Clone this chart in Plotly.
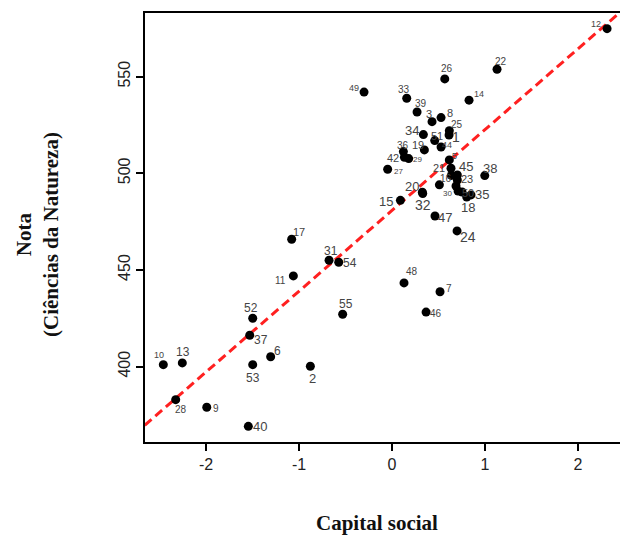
import plotly.graph_objects as go

# Data
labels = ["12","22","26","49","33","14","39","3","8","25","1","34","51","44","19","36","42","29","27",
          "5","21","45","","23","16","","30","50","18","35","38","20","32","15","47","24",
          "17","31","54","11","55","52","37","6","10","13","53","2","28","9","40","48","7","46"]
capital_social = [2.312,1.129,0.567,-0.301,0.158,0.828,0.269,0.430,0.527,0.616,0.613,0.337,0.459,0.527,0.348,0.122,0.133,0.179,-0.047,
                  0.616,0.634,0.702,0.638,0.702,0.509,0.688,0.710,0.753,0.803,0.849,0.997,0.326,0.330,0.090,0.462,0.699,
                  -1.079,-0.677,-0.573,-1.061,-0.531,-1.498,-1.530,-1.305,-2.459,-2.255,-1.498,-0.878,-2.326,-1.992,-1.545,0.129,0.516,0.366]
nota = [574.8,553.8,548.8,542.0,538.8,537.8,531.7,526.7,528.8,522.0,519.8,520.0,516.9,513.6,512.1,511.2,508.3,507.6,502.1,
        506.9,502.6,499.1,498.9,496.5,494.0,493.4,490.8,490.3,487.7,488.8,498.8,490.2,489.5,486.0,477.9,470.2,
        465.9,455.0,454.0,446.9,427.1,425.0,416.2,405.1,401.0,401.9,401.0,400.2,382.9,379.0,369.1,443.3,438.7,428.2]

# label placement (pixel offsets from the dot, right / down) and sizes -- styling only
label_dx = [-11,4,2,-10,-3,10,4,-3,9,8,7,-11,2,6,-6,0,-11,9,11,
            5,-12,9,0,10,7,0,-11,6,1,11,5,-10,0,-14,10,11,
            7,2,11,-13,3,-2,11,7,-4,1,0,2,5,9,12,8,9,10]
label_dy = [-5,-8,-10,-4,-9,-6,-8,-8,-5,-6,2,-4,-5,-2,-5,-6,1,1,2,
            -4,0,-9,0,-1,-6,0,2,1,10,0,-7,-6,11,1,1,6,
            -7,-9,1,5,-10,-10,5,-6,-10,-11,13,12,10,1,0,-11,-3,1]
label_size = [9,10,10,9,10,9,10,11,11,10,14,13,11,9,11,10,11,8,8,
              9,11,13,10,11,10,10,8,11,13,13,13,13,14,13,13,14,
              11,12,12,10,12,12,12,12,9,12,12,13,10,10,13,10,10,10]

# fitted line
line_intercept = 480.8
line_slope = 41.8

x_range = [-2.656, 2.451]
y_range = [361.0, 582.9]

fig = go.Figure()

line_x = [-3.0, 3.0]
line_y = [line_intercept + line_slope * v for v in line_x]
fig.add_trace(go.Scatter(x=line_x, y=line_y, mode="lines",
                         line=dict(color="#ff2020", width=3, dash="9px,5px"),
                         hoverinfo="skip", showlegend=False))

fig.add_trace(go.Scatter(x=capital_social, y=nota, mode="markers",
                         marker=dict(color="black", size=9),
                         cliponaxis=False, showlegend=False))

for lab, xv, yv, dx, dy, fs in zip(labels, capital_social, nota, label_dx, label_dy, label_size):
    if not lab:
        continue
    fig.add_annotation(x=xv, y=yv, text=lab, showarrow=False,
                       xanchor="center", yanchor="middle",
                       xshift=dx, yshift=-dy,
                       font=dict(family="Liberation Sans, Arial", size=fs, color="#444444"))

fig.update_layout(
    width=620, height=536,
    margin=dict(l=145, r=0, t=13, b=94),
    paper_bgcolor="white", plot_bgcolor="white",
    showlegend=False,
    font=dict(family="Liberation Sans, Arial", color="#222222"),
)
fig.update_xaxes(range=x_range, tickvals=[-2, -1, 0, 1, 2], ticktext=["-2", "-1", "0", "1", "2"],
                 showgrid=False, zeroline=False, showline=True, linecolor="black", linewidth=1.5,
                 mirror=True, ticks="outside", ticklen=7, tickcolor="black", tickwidth=1.5,
                 tickfont=dict(size=16, color="#222222"))
fig.update_yaxes(range=y_range, tickvals=[400, 450, 500, 550],
                 showgrid=False, zeroline=False, showline=True, linecolor="black", linewidth=1.5,
                 mirror=False, ticks="outside", ticklen=7, tickcolor="black", tickwidth=1.5,
                 tickangle=-90, tickfont=dict(size=16, color="#222222"))

fig.add_annotation(text="<b>Capital social</b>", xref="paper", yref="paper",
                   x=(377 - 145) / 475, y=(442 - 523) / 429, xanchor="center", yanchor="middle",
                   showarrow=False, font=dict(family="Liberation Serif", size=21, color="#111111"))
fig.add_annotation(text="<b>Nota</b><br><b>(Ciências da Natureza)</b>", xref="paper", yref="paper",
                   x=(37 - 145) / 475, y=(442 - 235) / 429, xanchor="center", yanchor="middle",
                   textangle=-90, showarrow=False,
                   font=dict(family="Liberation Serif", size=21, color="#111111"))

fig.write_html("out.html", config={"displayModeBar": False},
               post_script="document.body.style.margin='0';document.body.style.padding='0';")
